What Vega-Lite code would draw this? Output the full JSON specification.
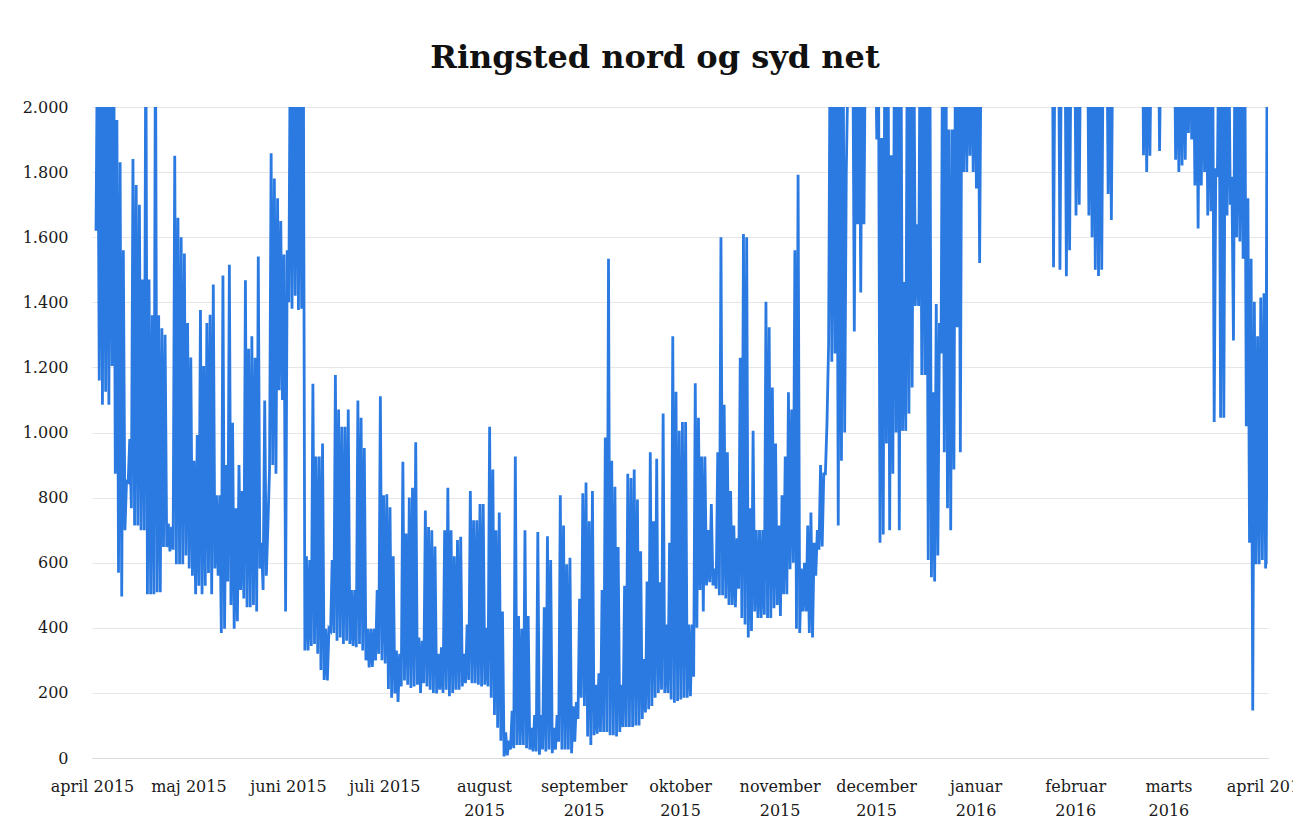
{
"$schema": "https://vega.github.io/schema/vega-lite/v6.json",
"width": 1176, "height": 651,
"autosize": {"type": "none"},
"padding": {"left": 92, "top": 107, "right": 25, "bottom": 73},
"background": "white",
"title": {"text": "Ringsted nord og syd net", "font": "DejaVu Serif", "fontSize": 32, "fontWeight": "bold", "color": "#111111", "anchor": "middle", "frame": "group", "offset": 39, "baseline": "alphabetic", "dx": -25, "dy": 40},
"config": {"view": {"stroke": null}},
"data": {"values": [
{"t":"2015-04-02T06:00","v":1620},{"t":"2015-04-02T18:00","v":2300},
{"t":"2015-04-03T06:00","v":1160},{"t":"2015-04-03T18:00","v":2300},
{"t":"2015-04-04T06:00","v":1085},{"t":"2015-04-04T18:00","v":2300},
{"t":"2015-04-05T06:00","v":1125},{"t":"2015-04-05T18:00","v":2300},
{"t":"2015-04-06T06:00","v":1085},{"t":"2015-04-06T18:00","v":2300},
{"t":"2015-04-07T06:00","v":1204},{"t":"2015-04-07T18:00","v":2300},
{"t":"2015-04-08T06:00","v":873},{"t":"2015-04-08T18:00","v":1960},
{"t":"2015-04-09T06:00","v":569},{"t":"2015-04-09T18:00","v":1830},
{"t":"2015-04-10T06:00","v":496},{"t":"2015-04-10T18:00","v":1560},
{"t":"2015-04-11T06:00","v":700},{"t":"2015-04-11T18:00","v":850},
{"t":"2015-04-12T06:00","v":847},{"t":"2015-04-12T18:00","v":980},
{"t":"2015-04-13T06:00","v":767},{"t":"2015-04-13T18:00","v":1840},
{"t":"2015-04-14T06:00","v":714},{"t":"2015-04-14T18:00","v":1760},
{"t":"2015-04-15T06:00","v":714},{"t":"2015-04-15T18:00","v":1700},
{"t":"2015-04-16T06:00","v":700},{"t":"2015-04-16T18:00","v":1470},
{"t":"2015-04-17T06:00","v":700},{"t":"2015-04-17T18:00","v":2300},
{"t":"2015-04-18T06:00","v":503},{"t":"2015-04-18T18:00","v":1470},
{"t":"2015-04-19T06:00","v":503},{"t":"2015-04-19T18:00","v":1360},
{"t":"2015-04-20T06:00","v":503},{"t":"2015-04-20T18:00","v":2300},
{"t":"2015-04-21T06:00","v":509},{"t":"2015-04-21T18:00","v":1360},
{"t":"2015-04-22T06:00","v":509},{"t":"2015-04-22T18:00","v":1320},
{"t":"2015-04-23T06:00","v":648},{"t":"2015-04-23T18:00","v":1300},
{"t":"2015-04-24T06:00","v":648},{"t":"2015-04-24T18:00","v":720},
{"t":"2015-04-25T06:00","v":635},{"t":"2015-04-25T18:00","v":710},
{"t":"2015-04-26T06:00","v":640},{"t":"2015-04-26T18:00","v":1850},
{"t":"2015-04-27T06:00","v":595},{"t":"2015-04-27T18:00","v":1660},
{"t":"2015-04-28T06:00","v":595},{"t":"2015-04-28T18:00","v":1600},
{"t":"2015-04-29T06:00","v":595},{"t":"2015-04-29T18:00","v":1550},
{"t":"2015-04-30T06:00","v":622},{"t":"2015-04-30T18:00","v":1336},
{"t":"2015-05-01T06:00","v":582},{"t":"2015-05-01T18:00","v":1230},
{"t":"2015-05-02T06:00","v":560},{"t":"2015-05-02T18:00","v":913},
{"t":"2015-05-03T06:00","v":503},{"t":"2015-05-03T18:00","v":992},
{"t":"2015-05-04T06:00","v":529},{"t":"2015-05-04T18:00","v":1376},
{"t":"2015-05-05T06:00","v":503},{"t":"2015-05-05T18:00","v":1204},
{"t":"2015-05-06T06:00","v":529},{"t":"2015-05-06T18:00","v":1336},
{"t":"2015-05-07T06:00","v":568},{"t":"2015-05-07T18:00","v":1362},
{"t":"2015-05-08T06:00","v":503},{"t":"2015-05-08T18:00","v":1455},
{"t":"2015-05-09T06:00","v":582},{"t":"2015-05-09T18:00","v":807},
{"t":"2015-05-10T06:00","v":560},{"t":"2015-05-10T18:00","v":807},
{"t":"2015-05-11T06:00","v":384},{"t":"2015-05-11T18:00","v":1482},
{"t":"2015-05-12T06:00","v":397},{"t":"2015-05-12T18:00","v":900},
{"t":"2015-05-13T06:00","v":542},{"t":"2015-05-13T18:00","v":1515},
{"t":"2015-05-14T06:00","v":470},{"t":"2015-05-14T18:00","v":1030},
{"t":"2015-05-15T06:00","v":397},{"t":"2015-05-15T18:00","v":767},
{"t":"2015-05-16T06:00","v":420},{"t":"2015-05-16T18:00","v":900},
{"t":"2015-05-17T06:00","v":516},{"t":"2015-05-17T18:00","v":820},
{"t":"2015-05-18T06:00","v":490},{"t":"2015-05-18T18:00","v":1468},
{"t":"2015-05-19T06:00","v":463},{"t":"2015-05-19T18:00","v":1257},
{"t":"2015-05-20T06:00","v":463},{"t":"2015-05-20T18:00","v":1296},
{"t":"2015-05-21T06:00","v":470},{"t":"2015-05-21T18:00","v":1230},
{"t":"2015-05-22T06:00","v":450},{"t":"2015-05-22T18:00","v":1541},
{"t":"2015-05-23T06:00","v":582},{"t":"2015-05-23T18:00","v":661},
{"t":"2015-05-24T06:00","v":516},{"t":"2015-05-24T18:00","v":1098},
{"t":"2015-05-25T06:00","v":560},{"t":"2015-05-25T18:00","v":714},
{"t":"2015-05-26T06:00","v":886},{"t":"2015-05-26T18:00","v":1858},
{"t":"2015-05-27T06:00","v":900},{"t":"2015-05-27T18:00","v":1780},
{"t":"2015-05-28T06:00","v":873},{"t":"2015-05-28T18:00","v":1720},
{"t":"2015-05-29T06:00","v":1130},{"t":"2015-05-29T18:00","v":1650},
{"t":"2015-05-30T06:00","v":1100},{"t":"2015-05-30T18:00","v":1547},
{"t":"2015-05-31T06:00","v":450},{"t":"2015-05-31T18:00","v":1560},
{"t":"2015-06-01T06:00","v":1400},{"t":"2015-06-01T18:00","v":2300},
{"t":"2015-06-02T06:00","v":1380},{"t":"2015-06-02T18:00","v":2300},
{"t":"2015-06-03T06:00","v":1420},{"t":"2015-06-03T18:00","v":2300},
{"t":"2015-06-04T06:00","v":1376},{"t":"2015-06-04T18:00","v":2300},
{"t":"2015-06-05T06:00","v":1380},{"t":"2015-06-05T18:00","v":2300},
{"t":"2015-06-06T06:00","v":330},{"t":"2015-06-06T18:00","v":620},
{"t":"2015-06-07T06:00","v":330},{"t":"2015-06-07T18:00","v":608},
{"t":"2015-06-08T06:00","v":344},{"t":"2015-06-08T18:00","v":1150},
{"t":"2015-06-09T06:00","v":350},{"t":"2015-06-09T18:00","v":926},
{"t":"2015-06-10T06:00","v":320},{"t":"2015-06-10T18:00","v":926},
{"t":"2015-06-11T06:00","v":270},{"t":"2015-06-11T18:00","v":966},
{"t":"2015-06-12T06:00","v":240},{"t":"2015-06-12T18:00","v":397},
{"t":"2015-06-13T06:00","v":238},{"t":"2015-06-13T18:00","v":397},
{"t":"2015-06-14T06:00","v":390},{"t":"2015-06-14T18:00","v":608},
{"t":"2015-06-15T06:00","v":384},{"t":"2015-06-15T18:00","v":1177},
{"t":"2015-06-16T06:00","v":360},{"t":"2015-06-16T18:00","v":1071},
{"t":"2015-06-17T06:00","v":370},{"t":"2015-06-17T18:00","v":1018},
{"t":"2015-06-18T06:00","v":350},{"t":"2015-06-18T18:00","v":1018},
{"t":"2015-06-19T06:00","v":360},{"t":"2015-06-19T18:00","v":1071},
{"t":"2015-06-20T06:00","v":350},{"t":"2015-06-20T18:00","v":516},
{"t":"2015-06-21T06:00","v":344},{"t":"2015-06-21T18:00","v":516},
{"t":"2015-06-22T06:00","v":340},{"t":"2015-06-22T18:00","v":1098},
{"t":"2015-06-23T06:00","v":350},{"t":"2015-06-23T18:00","v":1045},
{"t":"2015-06-24T06:00","v":330},{"t":"2015-06-24T18:00","v":952},
{"t":"2015-06-25T06:00","v":300},{"t":"2015-06-25T18:00","v":397},
{"t":"2015-06-26T06:00","v":278},{"t":"2015-06-26T18:00","v":397},
{"t":"2015-06-27T06:00","v":280},{"t":"2015-06-27T18:00","v":397},
{"t":"2015-06-28T06:00","v":300},{"t":"2015-06-28T18:00","v":516},
{"t":"2015-06-29T06:00","v":320},{"t":"2015-06-29T18:00","v":1111},
{"t":"2015-06-30T06:00","v":300},{"t":"2015-06-30T18:00","v":807},
{"t":"2015-07-01T06:00","v":290},{"t":"2015-07-01T18:00","v":810},
{"t":"2015-07-02T06:00","v":212},{"t":"2015-07-02T18:00","v":770},
{"t":"2015-07-03T06:00","v":185},{"t":"2015-07-03T18:00","v":620},
{"t":"2015-07-04T06:00","v":198},{"t":"2015-07-04T18:00","v":330},
{"t":"2015-07-05T06:00","v":172},{"t":"2015-07-05T18:00","v":320},
{"t":"2015-07-06T06:00","v":220},{"t":"2015-07-06T18:00","v":910},
{"t":"2015-07-07T06:00","v":238},{"t":"2015-07-07T18:00","v":690},
{"t":"2015-07-08T06:00","v":225},{"t":"2015-07-08T18:00","v":800},
{"t":"2015-07-09T06:00","v":215},{"t":"2015-07-09T18:00","v":830},
{"t":"2015-07-10T06:00","v":220},{"t":"2015-07-10T18:00","v":970},
{"t":"2015-07-11T06:00","v":225},{"t":"2015-07-11T18:00","v":370},
{"t":"2015-07-12T06:00","v":200},{"t":"2015-07-12T18:00","v":360},
{"t":"2015-07-13T06:00","v":230},{"t":"2015-07-13T18:00","v":760},
{"t":"2015-07-14T06:00","v":220},{"t":"2015-07-14T18:00","v":710},
{"t":"2015-07-15T06:00","v":210},{"t":"2015-07-15T18:00","v":700},
{"t":"2015-07-16T06:00","v":200},{"t":"2015-07-16T18:00","v":650},
{"t":"2015-07-17T06:00","v":198},{"t":"2015-07-17T18:00","v":320},
{"t":"2015-07-18T06:00","v":210},{"t":"2015-07-18T18:00","v":340},
{"t":"2015-07-19T06:00","v":200},{"t":"2015-07-19T18:00","v":700},
{"t":"2015-07-20T06:00","v":210},{"t":"2015-07-20T18:00","v":830},
{"t":"2015-07-21T06:00","v":190},{"t":"2015-07-21T18:00","v":700},
{"t":"2015-07-22T06:00","v":200},{"t":"2015-07-22T18:00","v":620},
{"t":"2015-07-23T06:00","v":210},{"t":"2015-07-23T18:00","v":670},
{"t":"2015-07-24T06:00","v":210},{"t":"2015-07-24T18:00","v":680},
{"t":"2015-07-25T06:00","v":220},{"t":"2015-07-25T18:00","v":320},
{"t":"2015-07-26T06:00","v":230},{"t":"2015-07-26T18:00","v":410},
{"t":"2015-07-27T06:00","v":240},{"t":"2015-07-27T18:00","v":820},
{"t":"2015-07-28T06:00","v":230},{"t":"2015-07-28T18:00","v":730},
{"t":"2015-07-29T06:00","v":230},{"t":"2015-07-29T18:00","v":730},
{"t":"2015-07-30T06:00","v":225},{"t":"2015-07-30T18:00","v":780},
{"t":"2015-07-31T06:00","v":220},{"t":"2015-07-31T18:00","v":780},
{"t":"2015-08-01T06:00","v":225},{"t":"2015-08-01T18:00","v":400},
{"t":"2015-08-02T06:00","v":220},{"t":"2015-08-02T18:00","v":1018},
{"t":"2015-08-03T06:00","v":185},{"t":"2015-08-03T18:00","v":886},
{"t":"2015-08-04T06:00","v":132},{"t":"2015-08-04T18:00","v":700},
{"t":"2015-08-05T06:00","v":93},{"t":"2015-08-05T18:00","v":754},
{"t":"2015-08-06T06:00","v":53},{"t":"2015-08-06T18:00","v":450},
{"t":"2015-08-07T06:00","v":5},{"t":"2015-08-07T18:00","v":79},
{"t":"2015-08-08T06:00","v":8},{"t":"2015-08-08T18:00","v":53},
{"t":"2015-08-09T06:00","v":26},{"t":"2015-08-09T18:00","v":145},
{"t":"2015-08-10T06:00","v":30},{"t":"2015-08-10T18:00","v":926},
{"t":"2015-08-11T06:00","v":40},{"t":"2015-08-11T18:00","v":436},
{"t":"2015-08-12T06:00","v":40},{"t":"2015-08-12T18:00","v":397},
{"t":"2015-08-13T06:00","v":40},{"t":"2015-08-13T18:00","v":700},
{"t":"2015-08-14T06:00","v":30},{"t":"2015-08-14T18:00","v":436},
{"t":"2015-08-15T06:00","v":26},{"t":"2015-08-15T18:00","v":93},
{"t":"2015-08-16T06:00","v":20},{"t":"2015-08-16T18:00","v":132},
{"t":"2015-08-17T06:00","v":20},{"t":"2015-08-17T18:00","v":694},
{"t":"2015-08-18T06:00","v":10},{"t":"2015-08-18T18:00","v":132},
{"t":"2015-08-19T06:00","v":26},{"t":"2015-08-19T18:00","v":463},
{"t":"2015-08-20T06:00","v":20},{"t":"2015-08-20T18:00","v":681},
{"t":"2015-08-21T06:00","v":26},{"t":"2015-08-21T18:00","v":608},
{"t":"2015-08-22T06:00","v":15},{"t":"2015-08-22T18:00","v":93},
{"t":"2015-08-23T06:00","v":26},{"t":"2015-08-23T18:00","v":132},
{"t":"2015-08-24T06:00","v":50},{"t":"2015-08-24T18:00","v":807},
{"t":"2015-08-25T06:00","v":26},{"t":"2015-08-25T18:00","v":714},
{"t":"2015-08-26T06:00","v":26},{"t":"2015-08-26T18:00","v":595},
{"t":"2015-08-27T06:00","v":26},{"t":"2015-08-27T18:00","v":615},
{"t":"2015-08-28T06:00","v":15},{"t":"2015-08-28T18:00","v":159},
{"t":"2015-08-29T06:00","v":50},{"t":"2015-08-29T18:00","v":172},
{"t":"2015-08-30T06:00","v":120},{"t":"2015-08-30T18:00","v":489},
{"t":"2015-08-31T06:00","v":185},{"t":"2015-08-31T18:00","v":813},
{"t":"2015-09-01T06:00","v":160},{"t":"2015-09-01T18:00","v":846},
{"t":"2015-09-02T06:00","v":66},{"t":"2015-09-02T18:00","v":727},
{"t":"2015-09-03T06:00","v":40},{"t":"2015-09-03T18:00","v":820},
{"t":"2015-09-04T06:00","v":70},{"t":"2015-09-04T18:00","v":225},
{"t":"2015-09-05T06:00","v":75},{"t":"2015-09-05T18:00","v":260},
{"t":"2015-09-06T06:00","v":80},{"t":"2015-09-06T18:00","v":516},
{"t":"2015-09-07T06:00","v":80},{"t":"2015-09-07T18:00","v":985},
{"t":"2015-09-08T06:00","v":80},{"t":"2015-09-08T18:00","v":1534},
{"t":"2015-09-09T06:00","v":70},{"t":"2015-09-09T18:00","v":913},
{"t":"2015-09-10T06:00","v":70},{"t":"2015-09-10T18:00","v":833},
{"t":"2015-09-11T06:00","v":66},{"t":"2015-09-11T18:00","v":648},
{"t":"2015-09-12T06:00","v":80},{"t":"2015-09-12T18:00","v":225},
{"t":"2015-09-13T06:00","v":95},{"t":"2015-09-13T18:00","v":529},
{"t":"2015-09-14T06:00","v":95},{"t":"2015-09-14T18:00","v":873},
{"t":"2015-09-15T06:00","v":95},{"t":"2015-09-15T18:00","v":860},
{"t":"2015-09-16T06:00","v":95},{"t":"2015-09-16T18:00","v":886},
{"t":"2015-09-17T06:00","v":100},{"t":"2015-09-17T18:00","v":794},
{"t":"2015-09-18T06:00","v":100},{"t":"2015-09-18T18:00","v":635},
{"t":"2015-09-19T06:00","v":120},{"t":"2015-09-19T18:00","v":304},
{"t":"2015-09-20T06:00","v":140},{"t":"2015-09-20T18:00","v":542},
{"t":"2015-09-21T06:00","v":150},{"t":"2015-09-21T18:00","v":939},
{"t":"2015-09-22T06:00","v":160},{"t":"2015-09-22T18:00","v":727},
{"t":"2015-09-23T06:00","v":185},{"t":"2015-09-23T18:00","v":919},
{"t":"2015-09-24T06:00","v":200},{"t":"2015-09-24T18:00","v":540},
{"t":"2015-09-25T06:00","v":210},{"t":"2015-09-25T18:00","v":1058},
{"t":"2015-09-26T06:00","v":200},{"t":"2015-09-26T18:00","v":410},
{"t":"2015-09-27T06:00","v":200},{"t":"2015-09-27T18:00","v":661},
{"t":"2015-09-28T06:00","v":180},{"t":"2015-09-28T18:00","v":1296},
{"t":"2015-09-29T06:00","v":170},{"t":"2015-09-29T18:00","v":1125},
{"t":"2015-09-30T06:00","v":175},{"t":"2015-09-30T18:00","v":1005},
{"t":"2015-10-01T06:00","v":180},{"t":"2015-10-01T18:00","v":1032},
{"t":"2015-10-02T06:00","v":185},{"t":"2015-10-02T18:00","v":1032},
{"t":"2015-10-03T06:00","v":185},{"t":"2015-10-03T18:00","v":410},
{"t":"2015-10-04T06:00","v":190},{"t":"2015-10-04T18:00","v":410},
{"t":"2015-10-05T06:00","v":250},{"t":"2015-10-05T18:00","v":1151},
{"t":"2015-10-06T06:00","v":400},{"t":"2015-10-06T18:00","v":1045},
{"t":"2015-10-07T06:00","v":516},{"t":"2015-10-07T18:00","v":926},
{"t":"2015-10-08T06:00","v":450},{"t":"2015-10-08T18:00","v":926},
{"t":"2015-10-09T06:00","v":530},{"t":"2015-10-09T18:00","v":700},
{"t":"2015-10-10T06:00","v":540},{"t":"2015-10-10T18:00","v":780},
{"t":"2015-10-11T06:00","v":530},{"t":"2015-10-11T18:00","v":582},
{"t":"2015-10-12T06:00","v":520},{"t":"2015-10-12T18:00","v":939},
{"t":"2015-10-13T06:00","v":500},{"t":"2015-10-13T18:00","v":1600},
{"t":"2015-10-14T06:00","v":500},{"t":"2015-10-14T18:00","v":1085},
{"t":"2015-10-15T06:00","v":490},{"t":"2015-10-15T18:00","v":939},
{"t":"2015-10-16T06:00","v":470},{"t":"2015-10-16T18:00","v":820},
{"t":"2015-10-17T06:00","v":470},{"t":"2015-10-17T18:00","v":714},
{"t":"2015-10-18T06:00","v":463},{"t":"2015-10-18T18:00","v":675},
{"t":"2015-10-19T06:00","v":520},{"t":"2015-10-19T18:00","v":1230},
{"t":"2015-10-20T06:00","v":430},{"t":"2015-10-20T18:00","v":1610},
{"t":"2015-10-21T06:00","v":410},{"t":"2015-10-21T18:00","v":1600},
{"t":"2015-10-22T06:00","v":370},{"t":"2015-10-22T18:00","v":767},
{"t":"2015-10-23T06:00","v":390},{"t":"2015-10-23T18:00","v":1005},
{"t":"2015-10-24T06:00","v":450},{"t":"2015-10-24T18:00","v":700},
{"t":"2015-10-25T06:00","v":430},{"t":"2015-10-25T18:00","v":700},
{"t":"2015-10-26T06:00","v":430},{"t":"2015-10-26T18:00","v":700},
{"t":"2015-10-27T06:00","v":440},{"t":"2015-10-27T18:00","v":1402},
{"t":"2015-10-28T06:00","v":430},{"t":"2015-10-28T18:00","v":1323},
{"t":"2015-10-29T06:00","v":430},{"t":"2015-10-29T18:00","v":1138},
{"t":"2015-10-30T06:00","v":460},{"t":"2015-10-30T18:00","v":966},
{"t":"2015-10-31T06:00","v":470},{"t":"2015-10-31T18:00","v":714},
{"t":"2015-11-01T06:00","v":436},{"t":"2015-11-01T18:00","v":807},
{"t":"2015-11-02T06:00","v":503},{"t":"2015-11-02T18:00","v":926},
{"t":"2015-11-03T06:00","v":503},{"t":"2015-11-03T18:00","v":1124},
{"t":"2015-11-04T06:00","v":580},{"t":"2015-11-04T18:00","v":1071},
{"t":"2015-11-05T06:00","v":600},{"t":"2015-11-05T18:00","v":1560},
{"t":"2015-11-06T06:00","v":397},{"t":"2015-11-06T18:00","v":1792},
{"t":"2015-11-07T06:00","v":384},{"t":"2015-11-07T18:00","v":582},
{"t":"2015-11-08T06:00","v":450},{"t":"2015-11-08T18:00","v":600},
{"t":"2015-11-09T06:00","v":450},{"t":"2015-11-09T18:00","v":714},
{"t":"2015-11-10T06:00","v":384},{"t":"2015-11-10T18:00","v":754},
{"t":"2015-11-11T06:00","v":370},{"t":"2015-11-11T18:00","v":661},
{"t":"2015-11-12T06:00","v":560},{"t":"2015-11-12T18:00","v":700},
{"t":"2015-11-13T06:00","v":640},{"t":"2015-11-13T18:00","v":900},
{"t":"2015-11-14T06:00","v":650},{"t":"2015-11-14T18:00","v":873},
{"t":"2015-11-15T06:00","v":873},{"t":"2015-11-15T18:00","v":1032},
{"t":"2015-11-16T06:00","v":1270},{"t":"2015-11-16T18:00","v":2300},
{"t":"2015-11-17T06:00","v":1217},{"t":"2015-11-17T18:00","v":2300},
{"t":"2015-11-18T06:00","v":1243},{"t":"2015-11-18T18:00","v":2300},
{"t":"2015-11-19T06:00","v":714},{"t":"2015-11-19T18:00","v":2300},
{"t":"2015-11-20T06:00","v":913},{"t":"2015-11-20T18:00","v":2300},
{"t":"2015-11-21T06:00","v":1000},{"t":"2015-11-21T18:00","v":1800},
{"t":"2015-11-22T06:00","v":2100},{"t":"2015-11-22T18:00","v":2300},
{"t":"2015-11-23T06:00","v":2100},{"t":"2015-11-23T18:00","v":2300},
{"t":"2015-11-24T06:00","v":1310},{"t":"2015-11-24T18:00","v":2300},
{"t":"2015-11-25T06:00","v":1640},{"t":"2015-11-25T18:00","v":2300},
{"t":"2015-11-26T06:00","v":1430},{"t":"2015-11-26T18:00","v":2300},
{"t":"2015-11-27T06:00","v":1640},{"t":"2015-11-27T18:00","v":2300},
{"t":"2015-11-28T06:00","v":2100},{"t":"2015-11-28T18:00","v":2300},
{"t":"2015-11-29T06:00","v":2100},{"t":"2015-11-29T18:00","v":2300},
{"t":"2015-11-30T06:00","v":2100},{"t":"2015-11-30T18:00","v":2300},
{"t":"2015-12-01T06:00","v":1900},{"t":"2015-12-01T18:00","v":2300},
{"t":"2015-12-02T06:00","v":661},{"t":"2015-12-02T18:00","v":1905},
{"t":"2015-12-03T06:00","v":687},{"t":"2015-12-03T18:00","v":2300},
{"t":"2015-12-04T06:00","v":966},{"t":"2015-12-04T18:00","v":2300},
{"t":"2015-12-05T06:00","v":700},{"t":"2015-12-05T18:00","v":1852},
{"t":"2015-12-06T06:00","v":873},{"t":"2015-12-06T18:00","v":2300},
{"t":"2015-12-07T06:00","v":1000},{"t":"2015-12-07T18:00","v":2300},
{"t":"2015-12-08T06:00","v":700},{"t":"2015-12-08T18:00","v":2300},
{"t":"2015-12-09T06:00","v":1005},{"t":"2015-12-09T18:00","v":1462},
{"t":"2015-12-10T06:00","v":1005},{"t":"2015-12-10T18:00","v":2300},
{"t":"2015-12-11T06:00","v":1058},{"t":"2015-12-11T18:00","v":2300},
{"t":"2015-12-12T06:00","v":1138},{"t":"2015-12-12T18:00","v":2300},
{"t":"2015-12-13T06:00","v":1389},{"t":"2015-12-13T18:00","v":1640},
{"t":"2015-12-14T06:00","v":1389},{"t":"2015-12-14T18:00","v":2300},
{"t":"2015-12-15T06:00","v":1177},{"t":"2015-12-15T18:00","v":2300},
{"t":"2015-12-16T06:00","v":1177},{"t":"2015-12-16T18:00","v":2300},
{"t":"2015-12-17T06:00","v":608},{"t":"2015-12-17T18:00","v":2300},
{"t":"2015-12-18T06:00","v":555},{"t":"2015-12-18T18:00","v":1124},
{"t":"2015-12-19T06:00","v":542},{"t":"2015-12-19T18:00","v":1395},
{"t":"2015-12-20T06:00","v":622},{"t":"2015-12-20T18:00","v":1336},
{"t":"2015-12-21T06:00","v":1243},{"t":"2015-12-21T18:00","v":2300},
{"t":"2015-12-22T06:00","v":939},{"t":"2015-12-22T18:00","v":2300},
{"t":"2015-12-23T06:00","v":767},{"t":"2015-12-23T18:00","v":1931},
{"t":"2015-12-24T06:00","v":700},{"t":"2015-12-24T18:00","v":1931},
{"t":"2015-12-25T06:00","v":886},{"t":"2015-12-25T18:00","v":2300},
{"t":"2015-12-26T06:00","v":1323},{"t":"2015-12-26T18:00","v":2300},
{"t":"2015-12-27T06:00","v":939},{"t":"2015-12-27T18:00","v":2300},
{"t":"2015-12-28T06:00","v":1800},{"t":"2015-12-28T18:00","v":2300},
{"t":"2015-12-29T06:00","v":1800},{"t":"2015-12-29T18:00","v":2300},
{"t":"2015-12-30T06:00","v":1850},{"t":"2015-12-30T18:00","v":2300},
{"t":"2015-12-31T06:00","v":1800},{"t":"2015-12-31T18:00","v":2300},
{"t":"2016-01-01T06:00","v":1750},{"t":"2016-01-01T18:00","v":2300},
{"t":"2016-01-02T06:00","v":1521},{"t":"2016-01-02T18:00","v":2300},
{"t":"2016-01-03T06:00","v":2600},{"t":"2016-01-24T18:00","v":2600},
{"t":"2016-01-25T06:00","v":1508},{"t":"2016-01-25T18:00","v":2300},
{"t":"2016-01-26T06:00","v":2200},{"t":"2016-01-26T18:00","v":2400},
{"t":"2016-01-27T06:00","v":1500},{"t":"2016-01-27T18:00","v":2300},
{"t":"2016-01-28T06:00","v":2200},{"t":"2016-01-28T18:00","v":2400},
{"t":"2016-01-29T06:00","v":1480},{"t":"2016-01-29T18:00","v":2300},
{"t":"2016-01-30T06:00","v":1560},{"t":"2016-01-30T18:00","v":2300},
{"t":"2016-01-31T06:00","v":2200},{"t":"2016-01-31T18:00","v":2400},
{"t":"2016-02-01T06:00","v":1667},{"t":"2016-02-01T18:00","v":2300},
{"t":"2016-02-02T06:00","v":1700},{"t":"2016-02-02T18:00","v":2300},
{"t":"2016-02-03T06:00","v":2200},{"t":"2016-02-03T18:00","v":2400},
{"t":"2016-02-04T06:00","v":2200},{"t":"2016-02-04T18:00","v":2400},
{"t":"2016-02-05T06:00","v":1667},{"t":"2016-02-05T18:00","v":2300},
{"t":"2016-02-06T06:00","v":1600},{"t":"2016-02-06T18:00","v":2300},
{"t":"2016-02-07T06:00","v":1500},{"t":"2016-02-07T18:00","v":2300},
{"t":"2016-02-08T06:00","v":1481},{"t":"2016-02-08T18:00","v":2300},
{"t":"2016-02-09T06:00","v":1500},{"t":"2016-02-09T18:00","v":2300},
{"t":"2016-02-10T06:00","v":2200},{"t":"2016-02-10T18:00","v":2400},
{"t":"2016-02-11T06:00","v":1733},{"t":"2016-02-11T18:00","v":2300},
{"t":"2016-02-12T06:00","v":1653},{"t":"2016-02-12T18:00","v":2300},
{"t":"2016-02-13T06:00","v":2600},{"t":"2016-02-21T18:00","v":2600},
{"t":"2016-02-22T06:00","v":1852},{"t":"2016-02-22T18:00","v":2300},
{"t":"2016-02-23T06:00","v":1800},{"t":"2016-02-23T18:00","v":2300},
{"t":"2016-02-24T06:00","v":1850},{"t":"2016-02-24T18:00","v":2300},
{"t":"2016-02-25T06:00","v":2400},{"t":"2016-02-26T18:00","v":2400},
{"t":"2016-02-27T06:00","v":1865},{"t":"2016-02-27T18:00","v":2300},
{"t":"2016-02-28T06:00","v":2400},{"t":"2016-03-02T18:00","v":2400},
{"t":"2016-03-03T06:00","v":1838},{"t":"2016-03-03T18:00","v":2300},
{"t":"2016-03-04T06:00","v":1800},{"t":"2016-03-04T18:00","v":2300},
{"t":"2016-03-05T06:00","v":1820},{"t":"2016-03-05T18:00","v":2300},
{"t":"2016-03-06T06:00","v":1838},{"t":"2016-03-06T18:00","v":2300},
{"t":"2016-03-07T06:00","v":1920},{"t":"2016-03-07T18:00","v":2300},
{"t":"2016-03-08T06:00","v":1900},{"t":"2016-03-08T18:00","v":2300},
{"t":"2016-03-09T06:00","v":1759},{"t":"2016-03-09T18:00","v":2300},
{"t":"2016-03-10T06:00","v":1627},{"t":"2016-03-10T18:00","v":2300},
{"t":"2016-03-11T06:00","v":1759},{"t":"2016-03-11T18:00","v":2300},
{"t":"2016-03-12T06:00","v":1800},{"t":"2016-03-12T18:00","v":2300},
{"t":"2016-03-13T06:00","v":1667},{"t":"2016-03-13T18:00","v":2300},
{"t":"2016-03-14T06:00","v":1680},{"t":"2016-03-14T18:00","v":2300},
{"t":"2016-03-15T06:00","v":1032},{"t":"2016-03-15T18:00","v":1812},
{"t":"2016-03-16T06:00","v":1786},{"t":"2016-03-16T18:00","v":2300},
{"t":"2016-03-17T06:00","v":1045},{"t":"2016-03-17T18:00","v":2300},
{"t":"2016-03-18T06:00","v":1045},{"t":"2016-03-18T18:00","v":2300},
{"t":"2016-03-19T06:00","v":1667},{"t":"2016-03-19T18:00","v":2300},
{"t":"2016-03-20T06:00","v":1700},{"t":"2016-03-20T18:00","v":1786},
{"t":"2016-03-21T06:00","v":1283},{"t":"2016-03-21T18:00","v":2300},
{"t":"2016-03-22T06:00","v":1600},{"t":"2016-03-22T18:00","v":2300},
{"t":"2016-03-23T06:00","v":1587},{"t":"2016-03-23T18:00","v":2300},
{"t":"2016-03-24T06:00","v":1534},{"t":"2016-03-24T18:00","v":2300},
{"t":"2016-03-25T06:00","v":1019},{"t":"2016-03-25T18:00","v":1720},
{"t":"2016-03-26T06:00","v":661},{"t":"2016-03-26T18:00","v":1534},
{"t":"2016-03-27T06:00","v":146},{"t":"2016-03-27T18:00","v":1402},
{"t":"2016-03-28T06:00","v":595},{"t":"2016-03-28T18:00","v":1296},
{"t":"2016-03-29T06:00","v":595},{"t":"2016-03-29T18:00","v":1415},
{"t":"2016-03-30T06:00","v":608},{"t":"2016-03-30T18:00","v":1428},
{"t":"2016-03-31T06:00","v":582},{"t":"2016-03-31T18:00","v":2300},
{"t":"2016-04-01T06:00","v":595},{"t":"2016-04-01T18:00","v":2300}
]},
"mark": {"type": "line", "color": "#2a7ae2", "strokeWidth": 2.8, "clip": true},
"encoding": {
  "x": {"field": "t", "type": "temporal",
    "scale": {"domain": [{"year": 2015, "month": 4, "date": 1}, {"year": 2016, "month": 4, "date": 1}]},
    "axis": {"title": null, "grid": false, "ticks": false, "domain": true, "domainColor": "#d9d9d9",
      "values": [{"year":2015,"month":4,"date":1},{"year":2015,"month":5,"date":1},{"year":2015,"month":6,"date":1},{"year":2015,"month":7,"date":1},{"year":2015,"month":8,"date":1},{"year":2015,"month":9,"date":1},{"year":2015,"month":10,"date":1},{"year":2015,"month":11,"date":1},{"year":2015,"month":12,"date":1},{"year":2016,"month":1,"date":1},{"year":2016,"month":2,"date":1},{"year":2016,"month":3,"date":1},{"year":2016,"month":4,"date":1}],
      "labelExpr": "month(datum.value) >= 3 && month(datum.value) <= 6 ? ['januar','februar','marts','april','maj','juni','juli','august','september','oktober','november','december'][month(datum.value)] + ' ' + year(datum.value) : [['januar','februar','marts','april','maj','juni','juli','august','september','oktober','november','december'][month(datum.value)], '' + year(datum.value)]",
      "labelFont": "DejaVu Serif", "labelFontSize": 16, "labelColor": "#1a1a1a", "labelPadding": 20, "labelBaseline": "top", "labelLineHeight": 24, "labelOverlap": false, "labelFlush": false, "labelAlign": "center"}},
  "y": {"field": "v", "type": "quantitative",
    "scale": {"domain": [0, 2000], "nice": false},
    "axis": {"title": null, "values": [0,200,400,600,800,1000,1200,1400,1600,1800,2000],
      "labelExpr": "replace(format(datum.value, ','), ',', '.')",
      "grid": true, "gridColor": "#e6e6e6", "domain": false, "ticks": false,
      "labelFont": "DejaVu Serif", "labelFontSize": 16, "labelColor": "#1a1a1a", "labelPadding": 24}}
}
}
